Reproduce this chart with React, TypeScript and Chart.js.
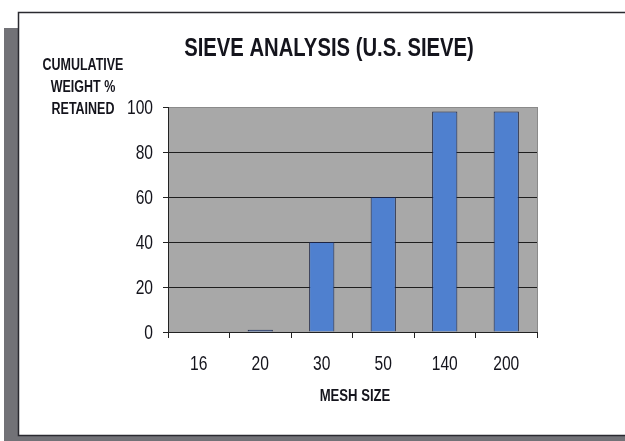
import { useEffect, useRef } from 'react';
import { Chart, registerables } from 'chart.js';

Chart.register(...registerables);

const meshSizes = ['16', '20', '30', '50', '140', '200'];
const retained = [0, 1, 40, 60, 98, 98];
const yTickValues = [0, 20, 40, 60, 80, 100];
const titleText = 'SIEVE ANALYSIS (U.S. SIEVE)';
const yTitleLines = ['CUMULATIVE', 'WEIGHT %', 'RETAINED'];
const xTitleText = 'MESH SIZE';

const FONT = '"Liberation Sans", Arial, sans-serif';
const TEXT_COLOR = '#14141c';

function narrowText(ctx: any, text: string, x: number, y: number, sx: number) {
  ctx.save();
  ctx.translate(x, y);
  ctx.scale(sx, 1);
  ctx.fillText(text, 0, 0);
  ctx.restore();
}

const decor = {
  id: 'decor',
  beforeDraw(chart: any) {
    const { ctx, chartArea: a, width, height } = chart;
    ctx.save();
    ctx.fillStyle = '#ffffff';
    ctx.fillRect(0, 0, width, height);
    // scanned frame shadow
    ctx.fillStyle = '#727277';
    ctx.fillRect(4, 28, 14, height - 28);
    ctx.fillRect(4, 436, width - 4, height - 436);
    // frame
    ctx.strokeStyle = '#2a2a30';
    ctx.lineWidth = 1.5;
    ctx.beginPath();
    ctx.moveTo(width, 12.5);
    ctx.lineTo(18.5, 12.5);
    ctx.lineTo(18.5, 435.5);
    ctx.lineTo(width, 435.5);
    ctx.stroke();
    // plot background
    ctx.fillStyle = '#a8a8a8';
    ctx.fillRect(a.left, a.top, a.right - a.left, a.bottom - a.top);
    ctx.restore();
  },
  afterDraw(chart: any) {
    const { ctx, chartArea: a, scales } = chart;
    ctx.save();
    ctx.strokeStyle = '#8a8a8a';
    ctx.lineWidth = 1;
    ctx.beginPath();
    ctx.moveTo(a.right + 0.5, a.top);
    ctx.lineTo(a.right + 0.5, a.bottom);
    ctx.stroke();

    ctx.fillStyle = TEXT_COLOR;

    // tick labels (condensed, like Arial Narrow)
    ctx.font = `20px ${FONT}`;
    ctx.textBaseline = 'middle';
    ctx.textAlign = 'right';
    yTickValues.forEach((v) => {
      narrowText(ctx, String(v), scales.y.left + 153, scales.y.getPixelForValue(v) + 1, 0.78);
    });
    ctx.textAlign = 'center';
    meshSizes.forEach((lab, i) => {
      narrowText(ctx, lab, scales.x.getPixelForTick(i), a.bottom + 32, 0.78);
    });

    // titles
    ctx.textBaseline = 'alphabetic';
    ctx.font = `bold 25px ${FONT}`;
    narrowText(ctx, titleText, 329, 56, 0.81);

    ctx.font = `bold 16px ${FONT}`;
    const baselines = [70, 92, 114];
    yTitleLines.forEach((line, i) => narrowText(ctx, line, 83, baselines[i], 0.78));

    narrowText(ctx, xTitleText, 355, 401, 0.82);
    ctx.restore();
  },
};

export default function App() {
  const ref = useRef<HTMLCanvasElement>(null);
  useEffect(() => {
    if (!ref.current) return;
    const chart = new Chart(ref.current, {
      type: 'bar',
      data: {
        labels: meshSizes,
        datasets: [
          {
            data: retained,
            backgroundColor: '#4f80cf',
            borderColor: '#1c2444',
            borderWidth: 1,
            barPercentage: 0.41,
            categoryPercentage: 1,
          },
        ],
      },
      options: {
        responsive: false,
        animation: false,
        layout: { padding: { left: 0, top: 107, right: 88, bottom: 0 } },
        plugins: {
          legend: { display: false },
          title: { display: false },
          tooltip: { enabled: false },
        },
        scales: {
          x: {
            grid: {
              drawOnChartArea: false,
              drawTicks: true,
              tickLength: 6,
              color: '#222222',
              offset: true,
            },
            border: { color: '#222222', width: 1 },
            ticks: { display: false },
            afterFit: (s: any) => {
              s.height = 109;
            },
          },
          y: {
            min: 0,
            max: 100,
            afterBuildTicks: (s: any) => {
              s.ticks = yTickValues.map((v) => ({ value: v }));
            },
            ticks: { display: false },
            grid: {
              color: (c: any) => (c.tick && c.tick.value === 100 ? '#8a8a8a' : '#1e1e1e'),
              tickColor: '#222222',
              tickLength: 5,
              lineWidth: 1,
            },
            border: { color: '#222222', width: 1 },
            afterFit: (s: any) => {
              s.width = 168;
            },
          },
        },
      },
      plugins: [decor],
    });
    return () => chart.destroy();
  }, []);
  return (
    <div style={{ position: 'fixed', left: 0, top: 0, width: 625, height: 441 }}>
      <canvas ref={ref} width={625} height={441} style={{ width: 625, height: 441 }} />
    </div>
  );
}
